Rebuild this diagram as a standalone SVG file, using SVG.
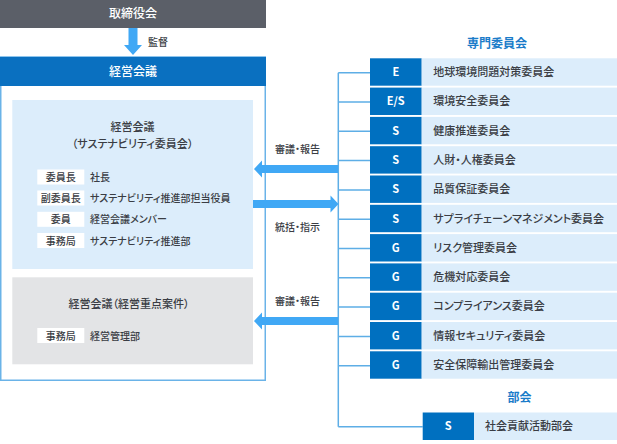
<svg xmlns="http://www.w3.org/2000/svg" width="617" height="444" viewBox="0 0 617 444">
<defs>
<style>
text{font-family:"Noto Sans CJK JP","Noto Sans",sans-serif;font-feature-settings:"palt";fill:#3a3d44;font-weight:500}
.hd{font-size:12px;fill:#fff}
.sm{font-size:10px}
.lb{font-size:11px}
.tag{fill:#0070c0}
.lab{fill:#dcedfb}
.tt{font-size:11px;fill:#fff;font-weight:700}
.ttl{font-size:12px;fill:#1b7cc9;font-weight:700}
.wb{fill:#fff}
.ln{stroke:#5eaee6;stroke-width:1.5;fill:none}
.ar{fill:#40a8f5}
</style>
</defs>
<rect width="617" height="444" fill="#fff"/>

<g id="board">
<rect x="0" y="0" width="266" height="28" fill="#5b5f68"/>
<text class="hd" x="133" y="18" text-anchor="middle">取締役会</text>
</g>

<g id="mgmt">
<rect x="0.75" y="57" width="264.5" height="323.25" fill="#fff" stroke="#6ab3e8" stroke-width="1.5"/>
<rect x="0" y="57" width="266" height="29" fill="#0a70c0"/>
<text class="hd" x="133" y="76" text-anchor="middle">経営会議</text>
</g>

<g id="sustain">
<rect x="12.3" y="100" width="240.7" height="169" fill="#dcedfb"/>
<text class="lb" x="132.6" y="131" text-anchor="middle">経営会議</text>
<text class="lb" x="132.6" y="148" text-anchor="middle">（サステナビリティ委員会）</text>
<rect class="wb" x="37.3" y="169.5" width="47" height="15"/>
<rect class="wb" x="37.3" y="190.5" width="47" height="15"/>
<rect class="wb" x="37.3" y="211.8" width="47" height="15"/>
<rect class="wb" x="37.3" y="233" width="47" height="15"/>
<text class="sm" x="60.8" y="181" text-anchor="middle">委員長</text>
<text class="sm" x="60.8" y="202" text-anchor="middle">副委員長</text>
<text class="sm" x="60.8" y="223.3" text-anchor="middle">委員</text>
<text class="sm" x="60.8" y="244.5" text-anchor="middle">事務局</text>
<text class="sm" x="90" y="181">社長</text>
<text class="sm" x="90" y="202">サステナビリティ推進部担当役員</text>
<text class="sm" x="90" y="223.3">経営会議メンバー</text>
<text class="sm" x="90" y="244.5">サステナビリティ推進部</text>
</g>

<g id="priority">
<rect x="12.3" y="277.3" width="240.7" height="87" fill="#e3e4e6"/>
<text class="lb" x="129" y="307.5" text-anchor="middle">経営会議（経営重点案件）</text>
<rect class="wb" x="37.3" y="328" width="47" height="15"/>
<text class="sm" x="60.8" y="339.5" text-anchor="middle">事務局</text>
<text class="sm" x="90" y="339.5">経営管理部</text>
</g>

<g id="connectors">
<path class="ar" d="M128.5 28 H137.5 V45 H142 L133 55 L124 45 H128.5 Z"/>
<text class="sm" x="148" y="45.5">監督</text>
<path class="ln" d="M338.3 72.7 V426.7 M338.3 72.7 H370 M338.3 102 H370 M338.3 131.3 H370 M338.3 160.6 H370 M338.3 189.9 H370 M338.3 219.2 H370 M338.3 248.5 H370 M338.3 277.8 H370 M338.3 307.1 H370 M338.3 336.4 H370 M338.3 365.7 H370 M338.3 426.7 H422.7"/>
<path class="ar" d="M338 165 H262 V160.5 L254 169 L262 177.5 V173 H338 Z"/>
<path class="ar" d="M253 200 H330.5 V195.5 L338.5 204 L330.5 212.5 V208 H253 Z"/>
<path class="ar" d="M338 317 H262 V312.5 L254 321 L262 329.5 V325 H338 Z"/>
<text class="sm" x="275" y="152.5">審議・報告</text>
<text class="sm" x="275" y="230.5">統括・指示</text>
<text class="sm" x="275" y="304.5">審議・報告</text>
</g>

<text class="ttl" x="497" y="48" text-anchor="middle">専門委員会</text>

<g id="c1"><rect class="tag" x="370" y="58.3" width="51.7" height="27.4"/><rect class="lab" x="421.7" y="58.3" width="195.3" height="27.4"/><text class="tt" x="395.8" y="76" text-anchor="middle">E</text><text class="lb" x="433.3" y="76">地球環境問題対策委員会</text></g>
<g id="c2"><rect class="tag" x="370" y="87.6" width="51.7" height="27.4"/><rect class="lab" x="421.7" y="87.6" width="195.3" height="27.4"/><text class="tt" x="395.8" y="105.3" text-anchor="middle">E/S</text><text class="lb" x="433.3" y="105.3">環境安全委員会</text></g>
<g id="c3"><rect class="tag" x="370" y="116.9" width="51.7" height="27.4"/><rect class="lab" x="421.7" y="116.9" width="195.3" height="27.4"/><text class="tt" x="395.8" y="134.6" text-anchor="middle">S</text><text class="lb" x="433.3" y="134.6">健康推進委員会</text></g>
<g id="c4"><rect class="tag" x="370" y="146.2" width="51.7" height="27.4"/><rect class="lab" x="421.7" y="146.2" width="195.3" height="27.4"/><text class="tt" x="395.8" y="163.9" text-anchor="middle">S</text><text class="lb" x="433.3" y="163.9">人財・人権委員会</text></g>
<g id="c5"><rect class="tag" x="370" y="175.5" width="51.7" height="27.4"/><rect class="lab" x="421.7" y="175.5" width="195.3" height="27.4"/><text class="tt" x="395.8" y="193.2" text-anchor="middle">S</text><text class="lb" x="433.3" y="193.2">品質保証委員会</text></g>
<g id="c6"><rect class="tag" x="370" y="204.8" width="51.7" height="27.4"/><rect class="lab" x="421.7" y="204.8" width="195.3" height="27.4"/><text class="tt" x="395.8" y="222.5" text-anchor="middle">S</text><text class="lb" x="433.3" y="222.5">サプライチェーンマネジメント委員会</text></g>
<g id="c7"><rect class="tag" x="370" y="234.1" width="51.7" height="27.4"/><rect class="lab" x="421.7" y="234.1" width="195.3" height="27.4"/><text class="tt" x="395.8" y="251.8" text-anchor="middle">G</text><text class="lb" x="433.3" y="251.8">リスク管理委員会</text></g>
<g id="c8"><rect class="tag" x="370" y="263.4" width="51.7" height="27.4"/><rect class="lab" x="421.7" y="263.4" width="195.3" height="27.4"/><text class="tt" x="395.8" y="281.1" text-anchor="middle">G</text><text class="lb" x="433.3" y="281.1">危機対応委員会</text></g>
<g id="c9"><rect class="tag" x="370" y="292.7" width="51.7" height="27.4"/><rect class="lab" x="421.7" y="292.7" width="195.3" height="27.4"/><text class="tt" x="395.8" y="310.4" text-anchor="middle">G</text><text class="lb" x="433.3" y="310.4">コンプライアンス委員会</text></g>
<g id="c10"><rect class="tag" x="370" y="322" width="51.7" height="27.4"/><rect class="lab" x="421.7" y="322" width="195.3" height="27.4"/><text class="tt" x="395.8" y="339.7" text-anchor="middle">G</text><text class="lb" x="433.3" y="339.7">情報セキュリティ委員会</text></g>
<g id="c11"><rect class="tag" x="370" y="351.3" width="51.7" height="27.4"/><rect class="lab" x="421.7" y="351.3" width="195.3" height="27.4"/><text class="tt" x="395.8" y="369" text-anchor="middle">G</text><text class="lb" x="433.3" y="369">安全保障輸出管理委員会</text></g>

<text class="ttl" x="519.5" y="402" text-anchor="middle">部会</text>
<g id="b1"><rect class="tag" x="422.7" y="412.5" width="51.3" height="27.5"/><rect class="lab" x="474" y="412.5" width="143" height="27.5"/><text class="tt" x="448.3" y="430.3" text-anchor="middle">S</text><text class="lb" x="485" y="430.3">社会貢献活動部会</text></g>
</svg>
